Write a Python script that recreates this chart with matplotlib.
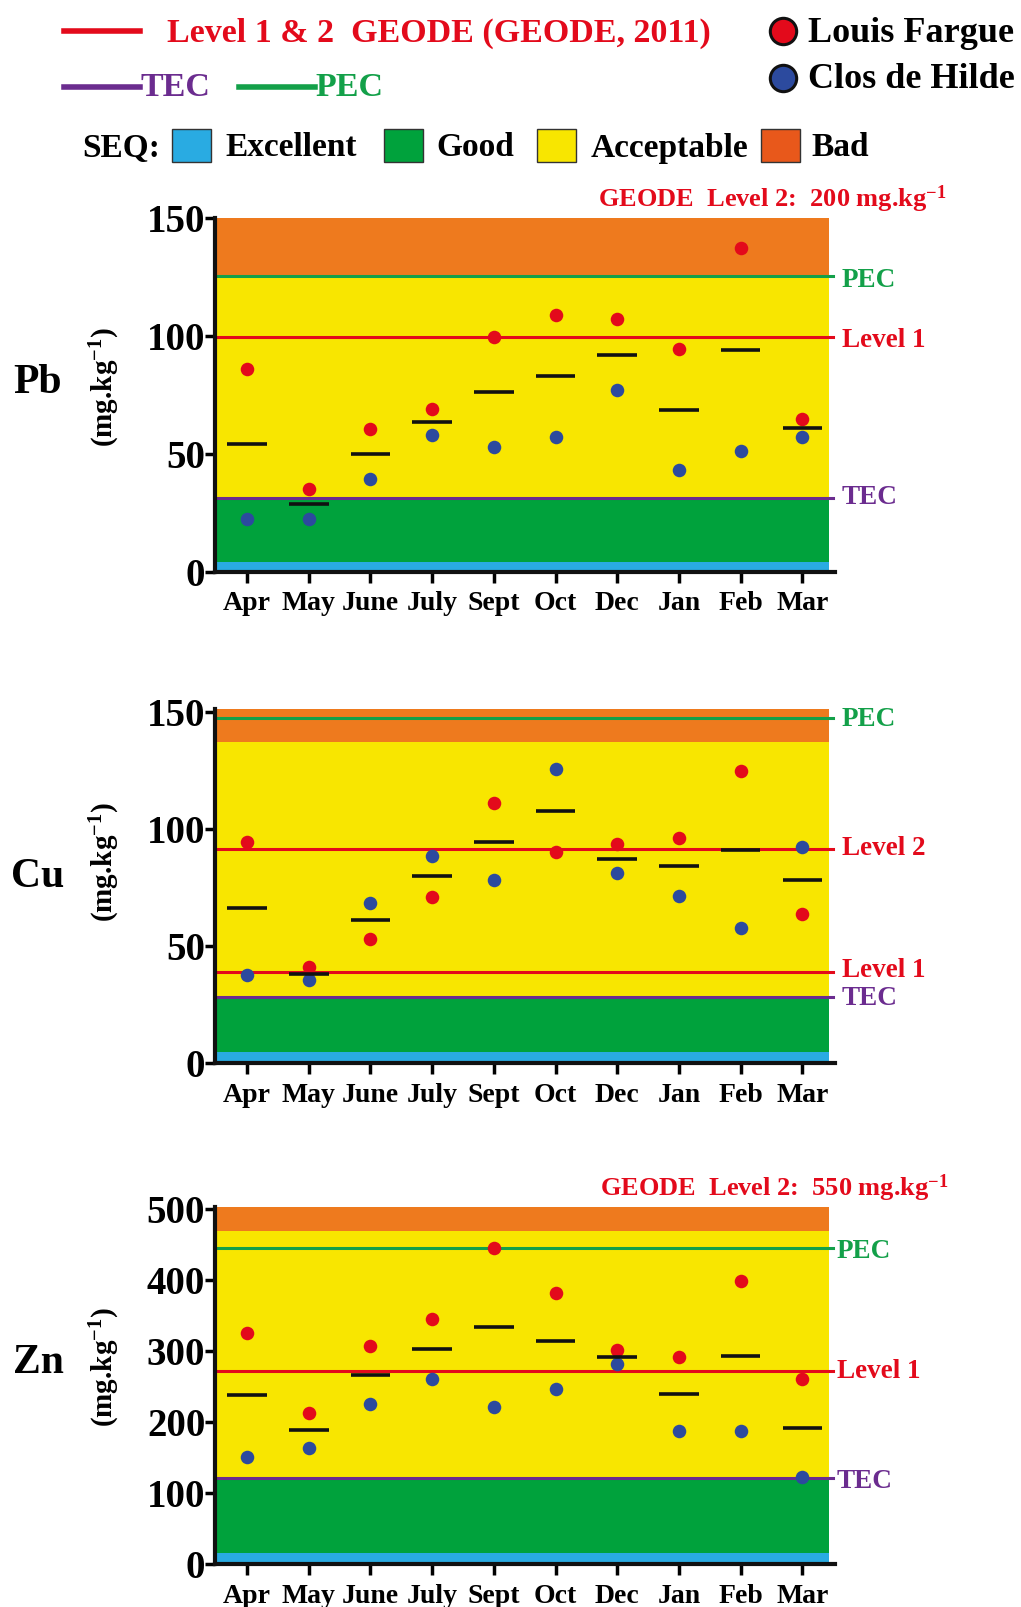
import numpy as np
import matplotlib.pyplot as plt
from matplotlib.patches import Rectangle

plt.rcParams['font.family'] = 'Liberation Serif'
plt.rcParams['font.weight'] = 'bold'
plt.rcParams['mathtext.fontset'] = 'custom'
plt.rcParams['mathtext.rm'] = 'Liberation Serif:bold'
plt.rcParams['mathtext.bf'] = 'Liberation Serif:bold'
plt.rcParams['mathtext.default'] = 'bf'

W, H = 1021, 1607

months = ['Apr', 'May', 'June', 'July', 'Sept', 'Oct', 'Dec', 'Jan', 'Feb', 'Mar']

# Pb (mg/kg)
pb_fargue = [86, 35, 60.5, 69, 99.6, 109, 107.3, 94.4, 137.3, 65]
pb_hilde = [22.5, 22.5, 39.5, 58, 53, 57.3, 77, 43.2, 51.1, 57.3]
pb_mean = [54.2, 28.7, 50.1, 63.7, 76.3, 83.2, 92.1, 68.8, 94.2, 61.1]
# SEQ class limits: excellent / good / acceptable / bad
pb_bands = [0, 4, 31, 125.5, 150]
pb_lines = {'PEC': 125.3, 'Level 1': 99.5, 'TEC': 31.3}

# Cu
cu_fargue = [94.4, 41, 53, 71, 111.2, 90, 93.7, 96.1, 124.8, 63.8]
cu_hilde = [37.5, 35.5, 68.5, 88.4, 78.3, 125.7, 81, 71.4, 57.6, 92.4]
cu_mean = [66.1, 38.1, 61, 79.9, 94.5, 107.6, 87.3, 84, 90.9, 78.3]
cu_bands = [0, 4.7, 28.4, 137, 151]
cu_lines = {'PEC': 147.4, 'Level 2': 91.3, 'Level 1': 38.8, 'TEC': 28.4}

# Zn
zn_fargue = [325, 213, 307, 345, 445.5, 382, 302, 292, 399, 261]
zn_hilde = [150.6, 164, 225, 260.7, 221, 246, 282.3, 187.6, 187.6, 123.3]
zn_mean = [238, 189.4, 266.4, 302.9, 333.5, 314.2, 292, 240, 293.5, 192.2]
zn_bands = [0, 15.5, 121, 469, 503]
zn_lines = {'PEC': 445.5, 'Level 1': 271.5, 'TEC': 121}

# colours
c_exc = '#29ABE2'
c_good = '#00A23C'
c_acc = '#F8E600'
c_bad = '#EE7A1E'
c_red = '#E30A1B'
c_tec = '#6B2C8F'
c_pec = '#13A049'
c_blue = '#2C4A9E'
line_col = {'PEC': c_pec, 'Level 1': c_red, 'Level 2': c_red, 'TEC': c_tec}

fig = plt.figure(figsize=(W / 100, H / 100), dpi=100)


def rect(l, t, r, b):
    return [l / W, 1 - b / H, (r - l) / W, (b - t) / H]


def panel(box, bands, fargue, hilde, mean, lines, yticks, lab_x, lab_dy):
    ax = fig.add_axes(rect(*box))
    x = np.arange(len(months))
    xl = (-0.52, 9.53)
    band_cols = [c_exc, c_good, c_acc, c_bad]
    for i in range(4):
        ax.fill_between([xl[0], 9.43], bands[i], bands[i + 1], color=band_cols[i], lw=0, zorder=0)
    for name, v in lines.items():
        ax.plot([xl[0], 9.5], [v, v], color=line_col[name], lw=2.2, zorder=2, clip_on=False)
        # label offset in pixels (positive = lower)
        d = lab_dy.get(name, 0) + 3
        ax.annotate(name, (lab_x, v), xytext=(0, -d), textcoords='offset pixels',
                    color=line_col[name], fontsize=19.5, va='center', ha='left',
                    annotation_clip=False)
    ax.scatter(x, fargue, s=95, color=c_red, zorder=3, clip_on=False, lw=0)
    ax.scatter(x, hilde, s=95, color=c_blue, zorder=3, clip_on=False, lw=0)
    ax.hlines(mean, x - 0.32, x + 0.32, color='#111111', lw=2.6, zorder=4)
    ax.set_xlim(*xl)
    ax.set_ylim(bands[0], bands[-1])
    ax.set_xticks(x)
    ax.set_xticklabels(months)
    ax.set_yticks(yticks)
    for s in ['top', 'right']:
        ax.spines[s].set_visible(False)
    for s in ['left', 'bottom']:
        ax.spines[s].set_linewidth(3)
        ax.spines[s].set_color('#111111')
    ax.tick_params(axis='y', length=7, width=2.5, pad=0, labelsize=28)
    ax.tick_params(axis='x', length=8, width=2.5, pad=6, labelsize=20)
    return ax


panel((215, 218.3, 835, 571.7), pb_bands, pb_fargue, pb_hilde, pb_mean, pb_lines,
      [0, 50, 100, 150], 9.64, {'PEC': 1.3, 'Level 1': 0.7, 'TEC': -3})
panel((215, 709.3, 835, 1063.3), cu_bands, cu_fargue, cu_hilde, cu_mean, cu_lines,
      [0, 50, 100, 150], 9.64, {'PEC': -1, 'Level 2': -3.6, 'Level 1': -5, 'TEC': -1})
panel((215, 1206.7, 835, 1564.3), zn_bands, zn_fargue, zn_hilde, zn_mean, zn_lines,
      [0, 100, 200, 300, 400, 500], 9.56, {'PEC': 1.3, 'Level 1': -2.3, 'TEC': 0.7})

# overlay in pixel coordinates for legend and labels
ax0 = fig.add_axes([0, 0, 1, 1], zorder=-1)
ax0.set_xlim(0, W)
ax0.set_ylim(H, 0)
ax0.axis('off')

ax0.plot([64, 140], [31, 31], color=c_red, lw=4)
ax0.text(167, 33, 'Level 1 & 2  GEODE (GEODE, 2011)', color=c_red, fontsize=24.5, va='center')
ax0.plot([64, 140], [87, 87], color=c_tec, lw=4)
ax0.text(140, 88, 'TEC', color=c_tec, fontsize=24.5, va='center')
ax0.plot([239, 315], [87, 87], color=c_pec, lw=4)
ax0.text(315, 88, 'PEC', color=c_pec, fontsize=24.5, va='center')

ax0.plot([783], [31], 'o', ms=19, mfc=c_red, mec='#111111', mew=2.2)
ax0.plot([783], [78], 'o', ms=19, mfc=c_blue, mec='#111111', mew=2.2)
ax0.text(808, 33, 'Louis Fargue', fontsize=26, va='center')
ax0.text(808, 80, 'Clos de Hilde', fontsize=26, va='center')

ax0.text(82, 148, 'SEQ:', fontsize=24, va='center')
seq = [(172, c_exc, 225, 'Excellent'), (384, c_good, 436, 'Good'),
       (537, c_acc, 591, 'Acceptable'), (761, '#E8581B', 811, 'Bad')]
for sx, col, tx, lab in seq:
    ax0.add_patch(Rectangle((sx, 129), 39, 33, facecolor=col, edgecolor='#333333', lw=1))
    ax0.text(tx, 148, lab, fontsize=24, va='center')

ax0.text(598, 199, 'GEODE  Level 2:  200 mg.kg$^{-1}$', color=c_red, fontsize=19, va='center')
ax0.text(600, 1188, 'GEODE  Level 2:  550 mg.kg$^{-1}$', color=c_red, fontsize=19, va='center')

for name, yc, yl in [('Pb', 383, 387), ('Cu', 877, 862), ('Zn', 1363, 1367)]:
    ax0.text(38, yc, name, fontsize=30, ha='center', va='center')
    ax0.text(105, yl, '(mg.kg$^{-1}$)', fontsize=21, rotation=90, ha='center', va='center')

plt.savefig('out.png', dpi=100)
